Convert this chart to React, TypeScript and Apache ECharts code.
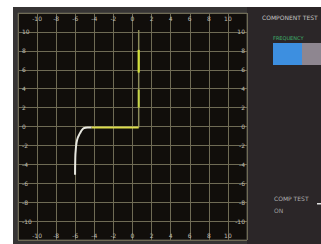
import React, { useEffect, useRef } from "react";
import * as echarts from "echarts";

// Axis settings (divisions of the component tester screen)
const axisMin = -12;
const axisMax = 12;
const axisStep = 2;
const hiddenTicks = [-12, 12];

// Trace segments: [x, y]
const dimTrace: [number, number][] = [[0.65, -0.1], [0.65, 10.2]];
const brightUpper: [number, number][] = [[0.65, 5.7], [0.65, 8.1]];
const brightLower: [number, number][] = [[0.65, 2.0], [0.65, 3.9]];
const plateau: [number, number][] = [[-4.3, -0.1], [0.65, -0.1]];
const knee: [number, number][] = [
  [-4.3, -0.1], [-4.7, -0.1], [-5.0, -0.15], [-5.2, -0.25], [-5.5, -0.7],
  [-5.8, -1.4], [-5.95, -2.5], [-6.0, -3.5], [-6.02, -5.1],
];

// Side panel texts
const panelTitle = "COMPONENT TEST";
const freqLabel = "FREQUENCY";
const compLabel = "COMP TEST";
const compState = "ON";

export default function App() {
  const ref = useRef<HTMLDivElement>(null);
  useEffect(() => {
    if (!ref.current) return;
    const chart = echarts.init(ref.current, undefined, { renderer: "svg" });
    const labelFmt = (v: number) => (hiddenTicks.includes(v) ? "" : String(v));
    const lbl = {
      inside: true,
      fontSize: 6,
      color: "#bdbdb0",
      fontFamily: "DejaVu Sans",
      formatter: labelFmt,
      showMinLabel: true,
      showMaxLabel: true,
    };
    const xBase = {
      type: "value" as const,
      min: axisMin,
      max: axisMax,
      interval: axisStep,
      axisLine: { show: false },
      axisTick: { show: false },
    };
    chart.setOption({
      animation: false,
      backgroundColor: "#ffffff",
      graphic: [
        { type: "rect", z: -10, shape: { x: 13, y: 7, width: 308, height: 237 }, style: { fill: "#363434" } },
        { type: "rect", z: -9, shape: { x: 247, y: 7, width: 74, height: 237 }, style: { fill: "#2b2628" } },
        { type: "text", x: 262, y: 14, style: { text: panelTitle, fontSize: 6, fill: "#c4c4c4", fontFamily: "DejaVu Sans" } },
        { type: "text", x: 273, y: 35, style: { text: freqLabel, fontSize: 5, fill: "#3fae6a", fontFamily: "DejaVu Sans" } },
        { type: "rect", shape: { x: 273, y: 43, width: 29, height: 22 }, style: { fill: "#3d8fe0" } },
        { type: "rect", shape: { x: 302, y: 43, width: 19, height: 22 }, style: { fill: "#8e8690" } },
        { type: "text", x: 274, y: 195, style: { text: compLabel, fontSize: 6, fill: "#b0b0b0", fontFamily: "DejaVu Sans" } },
        { type: "text", x: 274, y: 207, style: { text: compState, fontSize: 6, fill: "#a0a0a0", fontFamily: "DejaVu Sans" } },
        { type: "rect", shape: { x: 317, y: 203, width: 4, height: 1.5 }, style: { fill: "#e0e0e0" } },
      ],
      grid: {
        left: 18,
        top: 13,
        width: 229,
        height: 227,
        show: true,
        backgroundColor: "#110e0b",
        borderColor: "#57544c",
        borderWidth: 1,
      },
      xAxis: [
        {
          ...xBase,
          position: "top",
          axisLabel: { ...lbl, margin: 2 },
          splitLine: { show: true, lineStyle: { color: "#6f6b55", width: 1 } },
        },
        {
          ...xBase,
          position: "bottom",
          axisLabel: { ...lbl, margin: 2 },
          splitLine: { show: false },
        },
      ],
      yAxis: [
        {
          ...xBase,
          position: "left",
          axisLabel: { ...lbl, margin: 4 },
          splitLine: { show: true, lineStyle: { color: "#6f6b55", width: 1 } },
        },
        {
          ...xBase,
          position: "right",
          axisLabel: { ...lbl, margin: 2 },
          splitLine: { show: false },
        },
      ],
      series: [
        { type: "line", data: dimTrace, symbol: "none", lineStyle: { color: "#8c8c5a", width: 1.5 } },
        { type: "line", data: brightUpper, symbol: "none", lineStyle: { color: "#d4e23c", width: 2.2 } },
        { type: "line", data: brightLower, symbol: "none", lineStyle: { color: "#c8d648", width: 2 } },
        { type: "line", data: plateau, symbol: "none", lineStyle: { color: "#dcdc4c", width: 2 } },
        { type: "line", data: knee, symbol: "none", smooth: true, lineStyle: { color: "#e8e8e0", width: 2 } },
      ],
    });
    return () => chart.dispose();
  }, []);
  return (
    <div
      ref={ref}
      style={{ position: "fixed", left: 0, top: 0, width: 321, height: 244 }}
    />
  );
}
